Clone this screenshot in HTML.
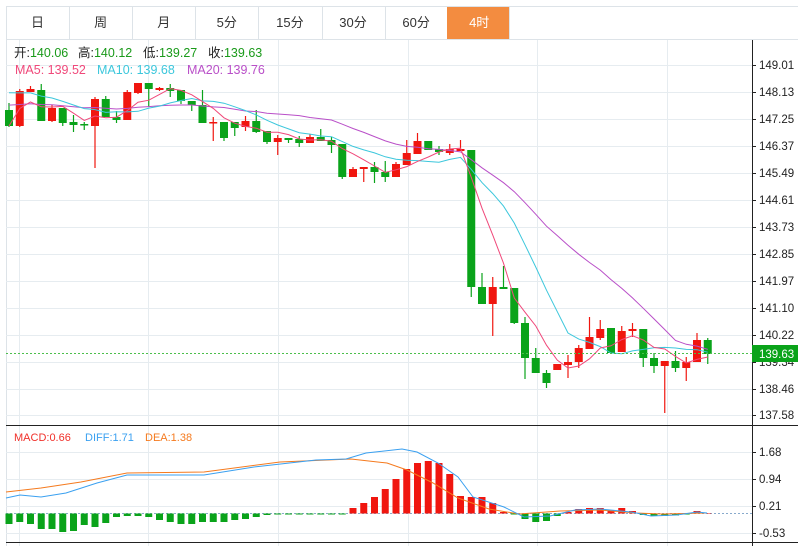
<!DOCTYPE html>
<html><head><meta charset="utf-8"><style>
body{margin:0;background:#fff;width:798px;height:546px;overflow:hidden;font-family:"Liberation Sans","Noto Sans CJK SC",sans-serif}
svg{position:absolute;left:0;top:0}
</style></head><body>
<svg id="s" width="798" height="546" xmlns="http://www.w3.org/2000/svg" font-family="Liberation Sans, Noto Sans CJK SC, sans-serif"></svg>
<script>
var s=document.getElementById('s'),h='';
function L(x1,y1,x2,y2,c,w,d){h+='<line x1="'+x1+'" y1="'+y1+'" x2="'+x2+'" y2="'+y2+'" stroke="'+c+'" stroke-width="'+(w||1)+'"'+(d?' stroke-dasharray="'+d+'"':'')+'/>';}
function R(x,y,w,hh,c){h+='<rect x="'+x+'" y="'+y+'" width="'+w+'" height="'+hh+'" fill="'+c+'"/>';}
function T(x,y,t,c,sz,a){h+='<text x="'+x+'" y="'+y+'" fill="'+c+'" font-size="'+(sz||12)+'"'+(a?' text-anchor="'+a+'"':'')+'>'+t+'</text>';}
// tabs
L(6,6.5,798,6.5,'#dde3e8');L(6,39.5,798,39.5,'#dde3e8');
var tabs=['日','周','月','5分','15分','30分','60分','4时'];
for(var i=0;i<8;i++){var x=6+i*63.1;L(Math.round(x)+.5,6,Math.round(x)+.5,39,'#dde3e8');
 if(i==7)R(447,7,62,32,'#f38c40');
 T(x+31.5,27,tabs[i],i==7?'#fff':'#333',13,'middle');}
L(509.5,6,509.5,39,'#dde3e8');
L(6.5,39,6.5,546,'#dde3e8');
// grid
var gy=[65,92,119,146,173,200,227,254,281,308,335,362,389,415];
var gl=['149.01','148.13','147.25','146.37','145.49','144.61','143.73','142.85','141.97','141.10','140.22','139.34','138.46','137.58'];
gy.forEach(function(y){L(6,y+.5,752,y+.5,'#e6ecf0');});
[19,148,278,408,537,667].forEach(function(x){L(x+.5,40,x+.5,546,'#e6ecf0');});
[452,479,506,533].forEach(function(y){L(6,y+.5,752,y+.5,'#e6ecf0');});
// candles [top,bottom,hi,lo,up(red)]
var c=[[110,126,103,127,0],[91,126,89,127,1],[89,92,86,92,1],[90,121,84,121,0],[108,121,105,122,1],[108,123,108,126,0],[122,125,115,132,0],[124,125,122,130,0],[99,126,97,168,1],[99,117,96,117,0],[117,120,111,123,0],[92,120,90,120,1],[83,93,83,94,1],[83,89,83,107,0],[88,90,87,91,1],[88,91,84,97,0],[90,101,90,104,0],[101,105,101,111,0],[105,123,90,123,0],[122,123,117,141,1],[122,138,122,141,0],[122,128,122,136,0],[121,127,116,131,1],[121,132,110,133,0],[131,142,131,144,0],[138,142,135,155,1],[138,140,138,143,0],[139,143,136,147,0],[137,143,134,143,1],[137,141,129,141,0],[140,145,137,153,0],[144,177,144,179,0],[169,177,167,177,1],[167,169,167,182,1],[167,172,162,183,0],[172,177,161,182,0],[164,177,162,177,1],[153,165,140,165,1],[141,154,133,154,1],[141,150,141,150,0],[149,152,146,155,0],[149,153,144,155,1],[149,151,140,151,1],[150,287,150,297,0],[287,304,273,304,0],[287,304,277,336,1],[287,289,266,289,0],[288,323,288,324,0],[323,358,317,379,0],[358,373,348,373,0],[373,383,370,388,0],[364,370,364,370,1],[362,365,355,378,1],[348,362,345,368,1],[337,349,317,349,1],[329,338,320,340,1],[328,353,328,353,0],[331,352,326,352,1],[329,331,323,337,1],[329,358,329,367,0],[358,366,353,373,0],[361,366,361,413,1],[361,368,351,372,0],[362,368,357,381,1],[340,362,333,362,1],[340,354,338,364,0]];
var cx=function(i){return 9+i*10.75;},cl=[];
c.forEach(function(d,i){var x=cx(i),col=d[4]?'#f0160f':'#0aa31a';
 L(x,d[2],x,d[3],col,1.2);R(x-4,d[0],8,Math.max(d[1]-d[0],1.5),col);cl.push(d[4]?d[0]:d[1]);});
function ma(n,col){var p='';for(var i=0;i<cl.length;i++){var st=Math.max(0,i-n+1),sm=0;for(var j=st;j<=i;j++)sm+=cl[j];
 var v=sm/(i-st+1);if(n==10&&i<9)v=(v*(i+1)+89*(9-i))/10;if(n==20&&i<19)v=(v*(i+1)+104*(19-i))/20;
 p+=(i?'L':'M')+cx(i).toFixed(1)+','+v.toFixed(1);}
 h+='<path d="'+p+'" fill="none" stroke="'+col+'" stroke-width="1"/>';}
ma(20,'#b94fc8');ma(10,'#3cc7dc');ma(5,'#f0487a');
// current price
L(6,353.5,752,353.5,'#4cbf4c',1,'2,2');
// axis
L(752.5,40,752.5,546,'#222');
gy.forEach(function(y,i){L(752,y+.5,756,y+.5,'#222');T(759,y+4,gl[i],'#222',11.5);});
R(752,345,46,17,'#0aa31a');T(759,358,'139.63','#fff',11.5);
L(6,425.5,798,425.5,'#222');L(6,542.5,798,542.5,'#222');
[[452,'1.68'],[479,'0.94'],[506,'0.21'],[533,'-0.53']].forEach(function(a){L(752,a[0]+.5,756,a[0]+.5,'#222');T(759,a[0]+4,a[1],'#222',11.5);});
// legend
[[14,'开:','140.06'],[78,'高:','140.12'],[143,'低:','139.27'],[208,'收:','139.63']].forEach(function(a){
 h+='<text x="'+a[0]+'" y="57" font-size="12.5"><tspan fill="#222">'+a[1]+'</tspan><tspan fill="#1a9a1a">'+a[2]+'</tspan></text>';});
T(15,74,'MA5: 139.52','#f0487a',12.5);T(97,74,'MA10: 139.68','#3cc7dc',12.5);T(187,74,'MA20: 139.76','#b94fc8',12.5);
// MACD
var zero=513.5;L(6,zero,752,zero,'#8ac',1,'2,2');
var gb=[524,522,524,529,529,532,531,525,527,523,517,516,516,517,520,522,524,524,522,522,522,520,519,517,515,514.5,514.5,514.5,514.5,514.5,514.5,514.5];
var rb=[508,503,497,489,479,469,463,461,463,474,496,497,497,503,512];
var mb={};gb.forEach(function(v,i){mb[i]=v;});rb.forEach(function(v,i){mb[32+i]=v;});
mb[47]=514.5;mb[48]=519;mb[49]=522;mb[50]=521;mb[51]=516;mb[52]=512;mb[53]=509;mb[54]=508;mb[55]=508;mb[56]=510;mb[57]=508;mb[58]=511;mb[59]=515;mb[60]=516;mb[61]=516;mb[62]=515.5;mb[63]=514;mb[64]=511;mb[65]=513;
for(var i=0;i<66;i++){var v=mb[i];var x=cx(i);if(v<zero)R(x-3.5,v,7,zero-v,'#f0160f');else R(x-3.5,zero,7,Math.max(v-zero,1),'#0aa31a');}
function pl(pts,col){h+='<polyline points="'+pts+'" fill="none" stroke="'+col+'" stroke-width="1"/>';}
pl('6,492 41,488 81,482 127,473 204,472 280,462 351,459 387,463 407,470 433,483 458,498 489,509 519,514 560,511 600,510 636,513 662,514 707,513','#f57a1e');
pl('6,498 20,495 41,497 66,493 97,483 127,475 204,475 254,467 316,460 346,459 366,453 402,449 417,452 438,463 458,477 473,497 504,507 524,517 550,516 575,510 600,509 631,512 651,516 677,515 697,512 707,513','#3aa0f0');
T(14,441,'MACD:0.66','#f0302a',11);T(85,441,'DIFF:1.71','#3aa0f0',11);T(145,441,'DEA:1.38','#f57a1e',11);
s.innerHTML=h;
</script>
</body></html>
